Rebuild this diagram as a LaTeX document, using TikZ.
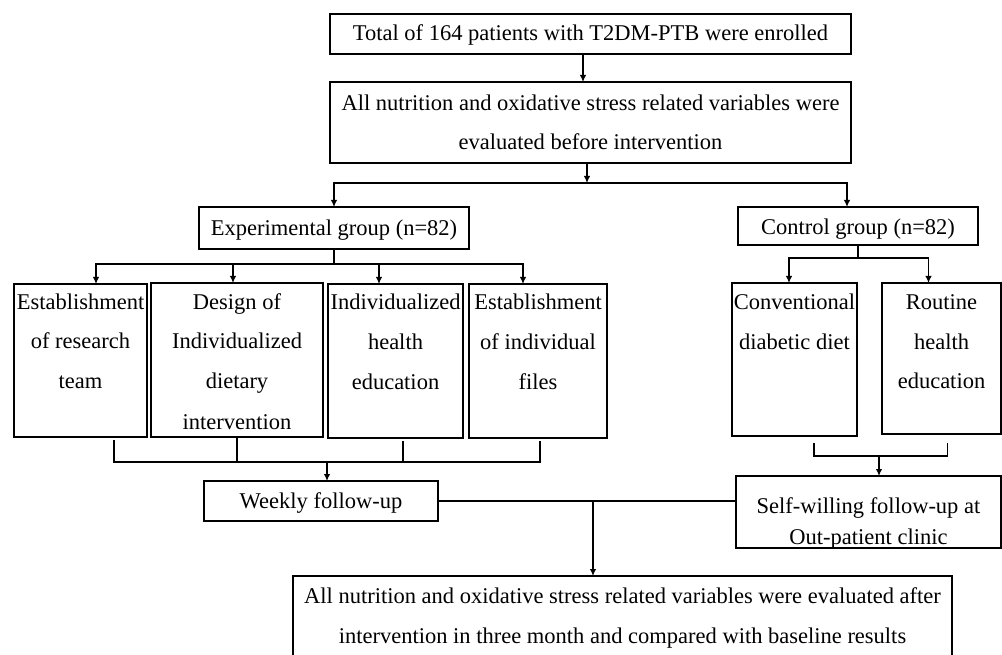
\documentclass[tikz,border=0pt]{standalone}
\usepackage{fontspec}
\setmainfont{Liberation Serif}
\usetikzlibrary{arrows.meta}
\tikzset{
  box/.style={draw, line width=1.6pt, inner sep=0pt, outer sep=0pt, anchor=north west, font=\fontsize{22.5}{40}\selectfont},
  conn/.style={line width=1.6pt},
  arr/.style={conn, -{Latex[length=7pt,width=6.5pt]}},
  arrs/.style={conn, {Latex[length=7pt,width=6.5pt]}-{Latex[length=7pt,width=6.5pt]}},
}
\newcommand{\pb}[4]{\parbox[c][#2][#3]{#1}{\centering #4}}
\begin{document}
\begin{tikzpicture}[x=1pt,y=-1pt]
\useasboundingbox (0,0) rectangle (1002,655);
% boxes
\node[box] (B1) at (330,14) {\pb{521pt}{40pt}{t}{\rule{0pt}{27pt}Total of 164 patients with T2DM-PTB were enrolled}};
\node[box] (B2) at (330,82) {\pb{521pt}{81pt}{c}{\fontsize{22.5}{39}\selectfont All nutrition and oxidative stress related variables were\\evaluated before intervention}};
\node[box] (Exp) at (199,207) {\pb{270pt}{42pt}{t}{\rule{0pt}{28.5pt}Experimental group (n=82)}};
\node[box] (Ctrl) at (738,207) {\pb{240pt}{38pt}{t}{\rule{0pt}{28pt}Control group (n=82)}};
\node[box] (A) at (14,284) {\pb{133pt}{153pt}{t}{\rule{0pt}{25pt}Establishment\\of research\\team}};
\node[box] (B) at (151,283) {\pb{172pt}{154pt}{t}{\rule{0pt}{26pt}Design of\\Individualized\\dietary\\intervention}};
\node[box] (C) at (328,284) {\pb{135pt}{154pt}{t}{\rule{0pt}{25pt}Individualized\\health\\education}};
\node[box] (D) at (469,284) {\pb{138pt}{154pt}{t}{\rule{0pt}{25pt}Establishment\\of individual\\files}};
\node[box] (E) at (732,283) {\pb{125pt}{153pt}{t}{\rule{0pt}{26pt}Conventional\\diabetic diet}};
\node[box] (F) at (882,283) {\pb{119pt}{151pt}{t}{\rule{0pt}{26pt}Routine\\health\\education}};
\node[box] (W) at (204,481) {\pb{234pt}{40pt}{t}{\rule{0pt}{27.5pt}Weekly follow-up}};
\node[box] (S) at (736,476) {\pb{265pt}{72pt}{t}{\fontsize{22.5}{31}\selectfont\rule{0pt}{37pt}Self-willing follow-up at\\Out-patient clinic}};
\node[box] (Z) at (293,576) {\pb{659pt}{82pt}{t}{\rule{0pt}{27pt}All nutrition and oxidative stress related variables were evaluated after\\intervention in three month and compared with baseline results}};
% top connectors
\coordinate (j1) at (587,183);
\draw[arr] ([xshift=-7.5pt]B1.south) -- ([xshift=-7.5pt]B2.north);
\draw[arr] (B2.south -| j1) -- (j1);
\draw[arrs] (Exp.north) |- (j1) -| ([xshift=-11pt]Ctrl.north);
% experimental branches
\coordinate (j2) at (334,264);
\draw[conn] (Exp.south) -- (Exp.south |- j2);
\draw[arrs] ([xshift=15.5pt]A.north) |- (j2) -| ([xshift=-15pt]D.north);
\coordinate (bt) at ([xshift=-4pt]B.north);
\coordinate (ct) at ([xshift=-16.5pt]C.north);
\draw[arr] (bt |- j2) -- (bt);
\draw[arr] (ct |- j2) -- (ct);
% collect into weekly
\coordinate (j3) at (327,462);
\coordinate (ab) at ([xshift=33.5pt,yshift=-3pt]A.south);
\coordinate (db) at ([xshift=2pt,yshift=-3pt]D.south);
\coordinate (bb) at ([yshift=-1pt]B.south);
\coordinate (cb) at ([xshift=7.5pt,yshift=-3pt]C.south);
\draw[conn] (ab) |- (j3) -| (db);
\draw[conn] (bb) -- (bb |- j3);
\draw[conn] (cb) -- (cb |- j3);
\draw[arr] (j3) -- (j3 |- W.north);
% control branches
\coordinate (j5) at (858,258);
\draw[conn] (Ctrl.south) -- (Ctrl.south |- j5);
\draw[arrs] ([xshift=-5.5pt]E.north) |- (j5) -| ([xshift=-13pt]F.north);
% collect into self-willing
\coordinate (j6) at (879,456);
\coordinate (eb) at ([xshift=19.5pt,yshift=-7pt]E.south);
\coordinate (fb) at ([xshift=6pt,yshift=-9pt]F.south);
\draw[conn] (eb) |- (j6) -| (fb);
\draw[arr] (j6) -- (j6 |- S.north);
% final
\draw[conn] (W.east) -- (W.east -| S.west);
\path (W.east) ++(155,0) coordinate (j4);
\draw[arr] (j4) -- (j4 |- Z.north);
\end{tikzpicture}
\end{document}
